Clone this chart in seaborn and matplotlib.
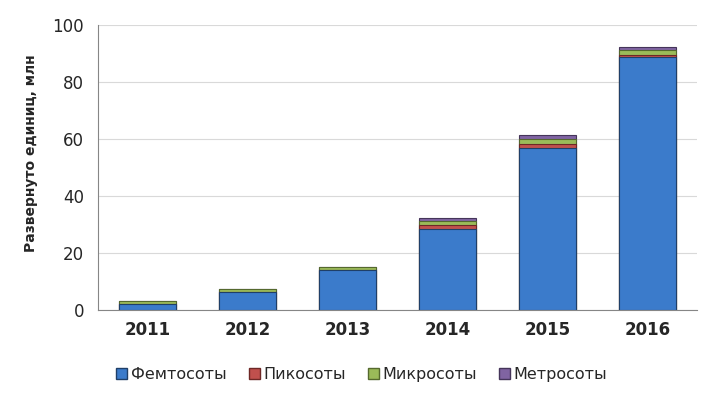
import seaborn as sns
import matplotlib.pyplot as plt
import pandas as pd
import numpy as np

years = ["2011", "2012", "2013", "2014", "2015", "2016"]
femto = [2.0, 6.3, 14.0, 28.4, 57.0, 88.6]
pico = [0.2, 0.1, 0.1, 1.5, 1.3, 1.0]
micro = [1.0, 0.9, 0.9, 1.2, 1.7, 1.6]
metro = [0.0, 0.0, 0.0, 1.1, 1.4, 1.0]

series = ["Фемтосоты", "Пикосоты", "Микросоты", "Метросоты"]
colors = ["#3b7bcb", "#c0504d", "#9bbb59", "#8064a2"]
edges = ["#1f3f68", "#6e2826", "#55692e", "#45355a"]

df = pd.DataFrame({"year": years, "Фемтосоты": femto, "Пикосоты": pico,
                   "Микросоты": micro, "Метросоты": metro})
cum = df[series].cumsum(axis=1)

sns.set_style("white")
plt.rcParams['font.family'] = ['Verdana', 'DejaVu Sans']

fig = plt.figure(figsize=(7.1, 4.08), dpi=100)
ax = fig.add_axes([0.138, 0.24, 0.844, 0.699])

# draw cumulative totals from the top layer down
for name, c, e in reversed(list(zip(series, colors, edges))):
    sns.barplot(x=df["year"], y=cum[name], color=c, edgecolor=e, linewidth=0.8,
                width=0.57, saturation=1, ax=ax, label=name)

ax.set_ylim(0, 100)
ax.set_yticks([0, 20, 40, 60, 80, 100])
ax.yaxis.grid(True, color="#d9d9d9", linewidth=0.8)
ax.set_axisbelow(True)
for s in ["top", "right"]:
    ax.spines[s].set_visible(False)
ax.spines["left"].set_color("#868686")
ax.spines["bottom"].set_color("#868686")
ax.tick_params(axis="y", length=4, color="#868686", labelsize=12, pad=6)
ax.tick_params(axis="x", length=0, labelsize=12, pad=8)
for lab in ax.get_xticklabels():
    lab.set_fontweight("bold")
ax.set_xlabel("")
ax.set_ylabel("Развернуто единиц, млн", fontsize=10, fontweight="bold")
ax.yaxis.set_label_coords(-0.1, 0.55)

handles = [plt.Rectangle((0, 0), 1, 1, facecolor=c, edgecolor=e) for c, e in zip(colors, edges)]
ax.legend(handles, series, loc="upper center", bbox_to_anchor=(0.44, -0.15), ncol=4,
          frameon=False, fontsize=11.5, handlelength=0.7, handleheight=0.7,
          handletextpad=0.2, columnspacing=1.4)

fig.savefig("out.png", dpi=100)
